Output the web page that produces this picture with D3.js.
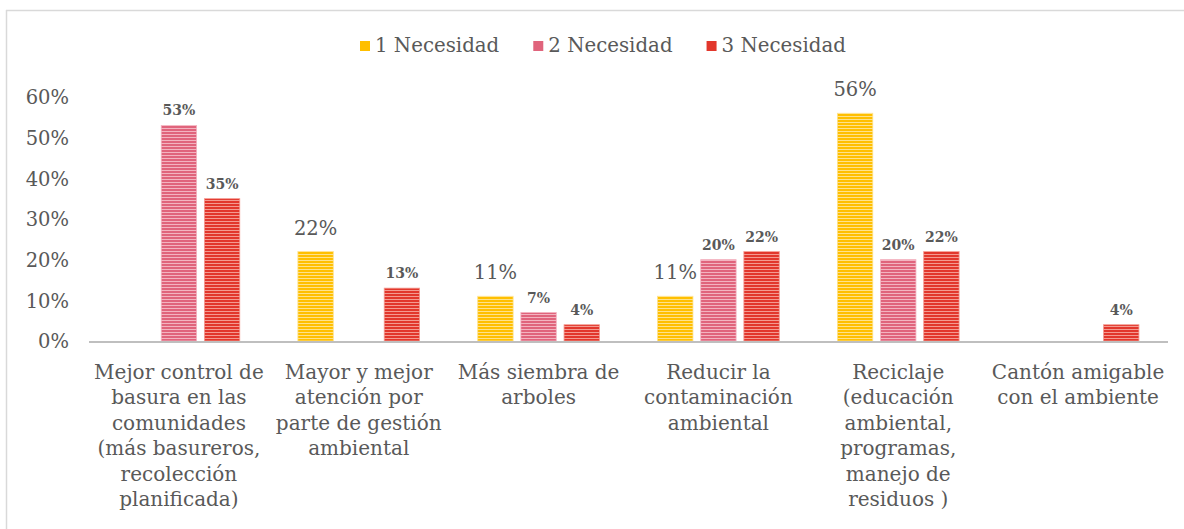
<!DOCTYPE html>
<html>
<head>
<meta charset="utf-8">
<script src="https://cdn.jsdelivr.net/npm/d3@7"></script>
<style>
  html, body { margin: 0; padding: 0; background: #ffffff; }
  svg { display: block; }
</style>
</head>
<body>
<svg id="chart" width="1184" height="529"></svg>
<script>
// Priority needs per category, share of answers for each ranking
const categories = [
  "Mejor control de\nbasura en las\ncomunidades\n(más basureros,\nrecolección\nplanificada)",
  "Mayor y mejor\natención por\nparte de gestión\nambiental",
  "Más siembra de\narboles",
  "Reducir la\ncontaminación\nambiental",
  "Reciclaje\n(educación\nambiental,\nprogramas,\nmanejo de\nresiduos )",
  "Cantón amigable\ncon el ambiente"
];
const seriesNames = ["1 Necesidad", "2 Necesidad", "3 Necesidad"];
const necesidad1 = [null, 0.22, 0.11, 0.11, 0.56, null];
const necesidad2 = [0.53, null, 0.07, 0.20, 0.20, null];
const necesidad3 = [0.35, 0.13, 0.04, 0.22, 0.22, 0.04];
const yTicks = [0, 0.1, 0.2, 0.3, 0.4, 0.5, 0.6];

const colors = ["#ffbf00", "#e0647c", "#e2372c"];
const lightColors = ["#ffe28a", "#f3b3c0", "#f49a90"];
const textColor = "#595959";
const fontFam = "'DejaVu Serif', serif";

const svg = d3.select("#chart");
const margin = { left: 89, right: 16, top: 97, bottom: 188 };
const W = 1184, H = 529;

// chart frame (top and left edges visible)
svg.append("line").attr("x1", 6).attr("x2", W).attr("y1", 10.5).attr("y2", 10.5)
  .attr("stroke", "#d9d9d9").attr("stroke-width", 1.5);
svg.append("line").attr("x1", 6.5).attr("x2", 6.5).attr("y1", 10).attr("y2", H)
  .attr("stroke", "#d9d9d9").attr("stroke-width", 1.5);

// striped fills
const defs = svg.append("defs");
colors.forEach((c, i) => {
  const p = defs.append("pattern").attr("id", "stripe" + i)
    .attr("patternUnits", "userSpaceOnUse").attr("width", 6).attr("height", 3);
  p.append("rect").attr("width", 6).attr("height", 3).attr("fill", c);
  p.append("rect").attr("y", 2).attr("width", 6).attr("height", 1).attr("fill", lightColors[i]);
});

const x0 = d3.scaleBand().domain(d3.range(categories.length))
  .range([margin.left, W - margin.right]).padding(0);
const x1 = d3.scaleBand().domain(d3.range(3))
  .range([x0.bandwidth() * 0.14, x0.bandwidth() * 0.86]).paddingInner(0.18).paddingOuter(0.09);
const y = d3.scaleLinear().domain([0, 0.6]).range([341, 97]);

// y axis labels
const yAxis = d3.axisLeft(y).tickValues(yTicks).tickFormat(d3.format(".0%")).tickSize(0).tickPadding(0);
const gy = svg.append("g").attr("transform", "translate(69,0)").call(yAxis);
gy.select(".domain").remove();
gy.selectAll("text").attr("font-family", fontFam).attr("font-size", 19.5)
  .attr("fill", textColor).attr("dy", "0.35em");

const seriesData = [necesidad1, necesidad2, necesidad3];

// bars
seriesData.forEach((vals, s) => {
  const g = svg.append("g");
  vals.forEach((v, i) => {
    if (v == null) return;
    const bx = x0(i) + x1(s);
    g.append("rect")
      .attr("x", bx).attr("y", y(v))
      .attr("width", x1.bandwidth()).attr("height", y(0) - y(v))
      .attr("fill", "url(#stripe" + s + ")")
      .attr("stroke", lightColors[s]).attr("stroke-width", 0.8);
    const big = s === 0;
    g.append("text")
      .attr("x", bx + x1.bandwidth() / 2)
      .attr("y", y(v) - (big ? 17 : 10))
      .attr("text-anchor", "middle")
      .attr("font-family", fontFam)
      .attr("font-size", big ? 19.5 : 14)
      .attr("font-weight", big ? "normal" : "bold")
      .attr("fill", textColor)
      .text(d3.format(".0%")(v));
  });
});

// x axis baseline
svg.append("line").attr("x1", margin.left).attr("x2", W - margin.right)
  .attr("y1", y(0) + 1).attr("y2", y(0) + 1)
  .attr("stroke", "#bfbfbf").attr("stroke-width", 2);

// category labels
categories.forEach((c, i) => {
  const t = svg.append("text")
    .attr("x", x0(i) + x0.bandwidth() / 2)
    .attr("y", 379)
    .attr("text-anchor", "middle")
    .attr("font-family", fontFam)
    .attr("font-size", 20)
    .attr("fill", textColor);
  c.split("\n").forEach((line, k) => {
    t.append("tspan").attr("x", x0(i) + x0.bandwidth() / 2)
      .attr("y", 379 + k * 25.4).text(line);
  });
});

// legend
const legend = svg.append("g");
let lx = 360;
seriesNames.forEach((name, s) => {
  legend.append("rect").attr("x", lx).attr("y", 41).attr("width", 10).attr("height", 10)
    .attr("fill", colors[s]);
  const t = legend.append("text").attr("x", lx + 15).attr("y", 52)
    .attr("font-family", fontFam).attr("font-size", 19.8).attr("fill", textColor).text(name);
  lx += 15 + t.node().getComputedTextLength() + 34;
});
</script>
</body>
</html>
